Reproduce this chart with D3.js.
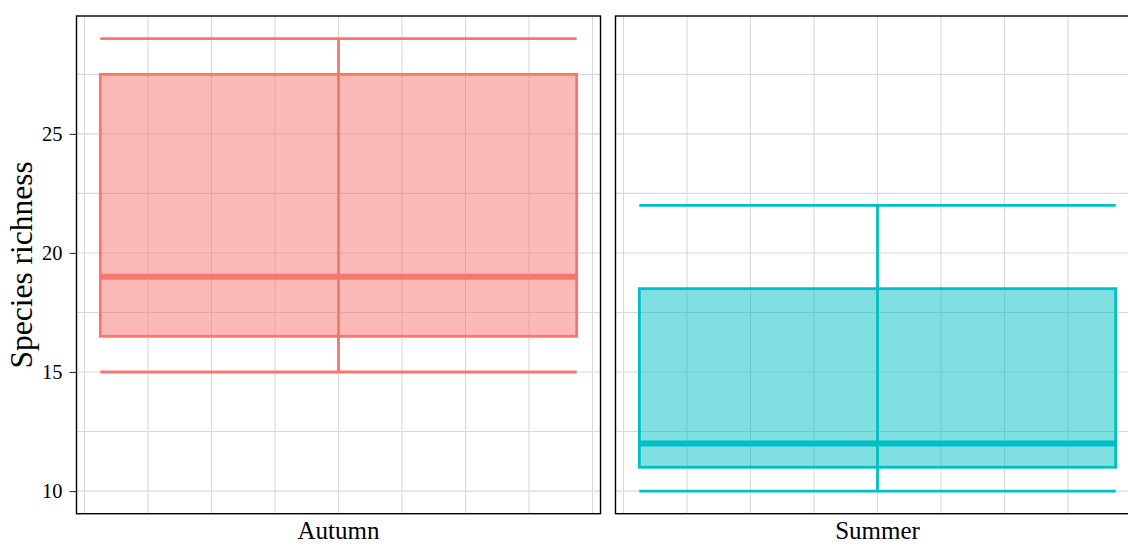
<!DOCTYPE html>
<html>
<head>
<meta charset="utf-8">
<script src="https://cdn.jsdelivr.net/npm/d3@7"></script>
<style>
  html, body { margin: 0; padding: 0; background: #ffffff; }
  svg { display: block; }
  text { font-family: "Liberation Serif", "Times New Roman", serif; fill: #000; }
</style>
</head>
<body>
<script>
// Season facets and the boxplot statistics of species richness
const seasons = ["Autumn", "Summer"];
const whiskerLow = [15, 10];
const lowerQuartile = [16.5, 11];
const medianValue = [19, 12];
const upperQuartile = [27.5, 18.5];
const whiskerHigh = [29, 22];
const seasonColors = ["#F8766D", "#00BFC4"];

// Axis breaks
const yTicks = [10, 15, 20, 25];
const yGrid = [10, 12.5, 15, 17.5, 20, 22.5, 25, 27.5];
const xGrid = [0.6, 0.7, 0.8, 0.9, 1.0, 1.1, 1.2, 1.3, 1.4];

const width = 1128, height = 545;
const svg = d3.select("body").append("svg")
  .attr("width", width).attr("height", height);

// Facet panels laid out side by side
const facet = d3.scaleBand()
  .domain(seasons)
  .range([76.5, 1139.5])
  .paddingInner(15 / 539);

const y = d3.scaleLinear().domain([9.05, 29.95]).range([513.7, 16]);

// Position within each panel: a single box at x = 1 with width 0.75
const x = d3.scaleLinear().domain([0.5875, 1.4125]).range([0, facet.bandwidth()]);

const rows = seasons.map((s, i) => ({
  season: s,
  lo: whiskerLow[i], q1: lowerQuartile[i], med: medianValue[i],
  q3: upperQuartile[i], hi: whiskerHigh[i], color: seasonColors[i]
}));

const clip = svg.append("defs");

rows.forEach((d, i) => {
  const px = facet(d.season);
  const g = svg.append("g").attr("transform", `translate(${px},0)`);
  clip.append("clipPath").attr("id", "clip" + i)
    .append("rect").attr("x", 0).attr("y", y.range()[1])
    .attr("width", facet.bandwidth()).attr("height", y.range()[0] - y.range()[1]);
  const inner = g.append("g").attr("clip-path", `url(#clip${i})`);

  // grid
  inner.selectAll("line.gy").data(yGrid).join("line")
    .attr("x1", 0).attr("x2", facet.bandwidth())
    .attr("y1", v => y(v)).attr("y2", v => y(v))
    .attr("stroke", "#d9d9d9").attr("stroke-width", 1.1);
  inner.selectAll("line.gx").data(xGrid).join("line")
    .attr("x1", v => x(v)).attr("x2", v => x(v))
    .attr("y1", y.range()[1]).attr("y2", y.range()[0])
    .attr("stroke", "#d9d9d9").attr("stroke-width", 1.1);

  const x0 = x(1 - 0.375), x1 = x(1 + 0.375), xc = x(1);

  // box fill
  inner.append("rect")
    .attr("x", x0).attr("width", x1 - x0)
    .attr("y", y(d.q3)).attr("height", y(d.q1) - y(d.q3))
    .attr("fill", d.color).attr("fill-opacity", 0.5)
    .attr("stroke", d.color).attr("stroke-width", 2.8);

  // whisker stem and caps
  inner.append("line")
    .attr("x1", xc).attr("x2", xc).attr("y1", y(d.lo)).attr("y2", y(d.hi))
    .attr("stroke", d.color).attr("stroke-width", 2.8);
  [d.lo, d.hi].forEach(v => {
    inner.append("line")
      .attr("x1", x0).attr("x2", x1).attr("y1", y(v)).attr("y2", y(v))
      .attr("stroke", d.color).attr("stroke-width", 2.8);
  });

  // median
  inner.append("line")
    .attr("x1", x0).attr("x2", x1).attr("y1", y(d.med)).attr("y2", y(d.med))
    .attr("stroke", d.color).attr("stroke-width", 6);

  // panel border
  g.append("rect")
    .attr("x", 0).attr("y", y.range()[1])
    .attr("width", facet.bandwidth()).attr("height", y.range()[0] - y.range()[1])
    .attr("fill", "none").attr("stroke", "#000").attr("stroke-width", 1.4);

  // facet label underneath
  g.append("text")
    .attr("x", xc).attr("y", 539)
    .attr("text-anchor", "middle")
    .attr("font-size", 25)
    .text(d.season);
});

// y axis on the first panel
const yAxis = d3.axisLeft(y).tickValues(yTicks).tickSize(7).tickPadding(7);
const ya = svg.append("g")
  .attr("transform", `translate(${facet(seasons[0])},0)`)
  .call(yAxis);
ya.select(".domain").remove();
ya.selectAll(".tick line").attr("stroke", "#333").attr("stroke-width", 1.1);
ya.selectAll(".tick text")
  .attr("font-family", "Liberation Serif, serif")
  .attr("font-size", 20.5).attr("fill", "#000");

// y axis title
svg.append("text")
  .attr("transform", `translate(32,${(y.range()[0] + y.range()[1]) / 2}) rotate(-90)`)
  .attr("text-anchor", "middle")
  .attr("font-size", 31.5)
  .text("Species richness");
</script>
</body>
</html>
